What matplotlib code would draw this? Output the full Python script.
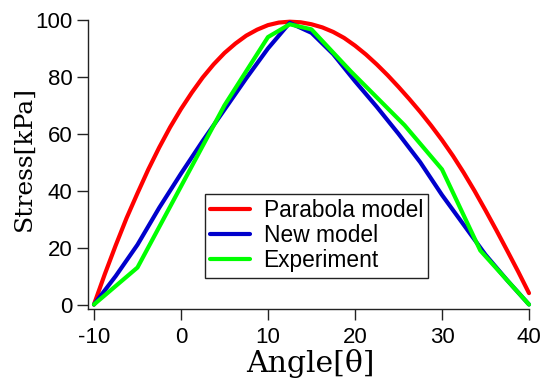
import matplotlib
matplotlib.use("Agg")
import matplotlib.pyplot as plt

# values
parabola_x = [-10, -8.75, -7.5, -6.25, -5, -3.75, -2.5, -1.25, 0, 1.25, 2.5,
              3.75, 5, 6.25, 7.5, 8.75, 10, 11.25, 12.5, 13.75, 15, 16.25,
              17.5, 18.75, 20, 21.25, 22.5, 23.75, 25, 26.25, 27.5, 28.75,
              30, 31.25, 32.5, 33.75, 35, 36.25, 37.5, 38.75, 40]
parabola_y = [0, 10.7, 20.8, 30.4, 39.1, 47.5, 55.2, 62.3, 68.7, 74.5, 79.8,
              84.4, 88.4, 91.7, 94.5, 96.6, 98.2, 99.1, 99.4, 99.2, 98.5, 97.4,
              95.8, 93.7, 91.0, 87.9, 84.4, 80.6, 76.5, 72.2, 67.7, 62.9,
              57.8, 52.3, 46.3, 39.9, 33.1, 26.1, 18.9, 11.6, 4.0]

new_x = [-10, -7.5, -5, -2.5, 0, 2.5, 5, 7.5, 10, 12.5,
         15, 17.5, 20, 22.5, 25, 27.5, 30, 32.5, 35, 37.5, 40]
new_y = [0, 10.0, 21.0, 34.0, 46.0, 57.5, 68.5, 79.5, 90.0, 99.0,
         95.5, 88.0, 78.5, 69.5, 60.0, 50.0, 38.5, 28.0, 17.5, 8.5, 0]

exp_x = [-10, -5, 5, 10, 12.5, 15, 19.5, 25.7, 30, 34.4, 40]
exp_y = [0, 13, 70, 94, 98.5, 96.7, 82, 63, 47.5, 19, 0]

x_ticks = [-10, 0, 10, 20, 30, 40]
y_ticks = [0, 20, 40, 60, 80, 100]

plt.rcParams["font.family"] = ["Liberation Sans", "DejaVu Sans"]
plt.rcParams["axes.unicode_minus"] = False

fig = plt.figure(figsize=(5.45, 3.78), dpi=100)
# axes box in pixels: left 88.3, right 529, top 20, bottom 308.5
ax = fig.add_axes([88.3 / 545, 1 - 308.5 / 378, 440.7 / 545, 288.5 / 378])

lw = 3.0
ax.plot(parabola_x, parabola_y, color="#FF0000", lw=lw, label="Parabola model",
        clip_on=False, solid_capstyle="round", solid_joinstyle="round")
ax.plot(new_x, new_y, color="#0000CC", lw=lw, label="New model",
        clip_on=False, solid_capstyle="round", solid_joinstyle="round")
ax.plot(exp_x, exp_y, color="#00FF00", lw=lw, label="Experiment",
        clip_on=False, solid_capstyle="round")

ax.set_xlim(-10.65, 40)
ax.set_ylim(-1.4, 100)
ax.set_xticks(x_ticks)
ax.set_yticks(y_ticks)

for side in ("top", "right"):
    ax.spines[side].set_visible(False)
for side in ("left", "bottom"):
    ax.spines[side].set_linewidth(1.0)
    ax.spines[side].set_color("#222222")
ax.tick_params(direction="out", length=8, width=1.0, color="#222222", labelsize=16)
ax.tick_params(axis="x", pad=5)
ax.tick_params(axis="y", pad=3.5)

serif = ["DejaVu Serif"]
ax.set_xlabel("Angle[θ]", family=serif, fontsize=21.5, va="baseline")
ax.set_ylabel("Stress[kPa]", family=serif, fontsize=18)
ax.xaxis.set_label_coords(0.503, -0.219)
ax.yaxis.set_label_coords(-0.119, 0.52)

leg = ax.legend(loc="upper left", bbox_to_anchor=(205 / 545, 1 - 194 / 378),
                bbox_transform=fig.transFigure, fontsize=16.4, frameon=True,
                fancybox=False, edgecolor="#222222", framealpha=1,
                borderaxespad=0, borderpad=0.24, handlelength=1.75,
                handletextpad=0.58, labelspacing=0.08)
leg.get_frame().set_linewidth(1.0)

fig.savefig("out.png", dpi=100)
